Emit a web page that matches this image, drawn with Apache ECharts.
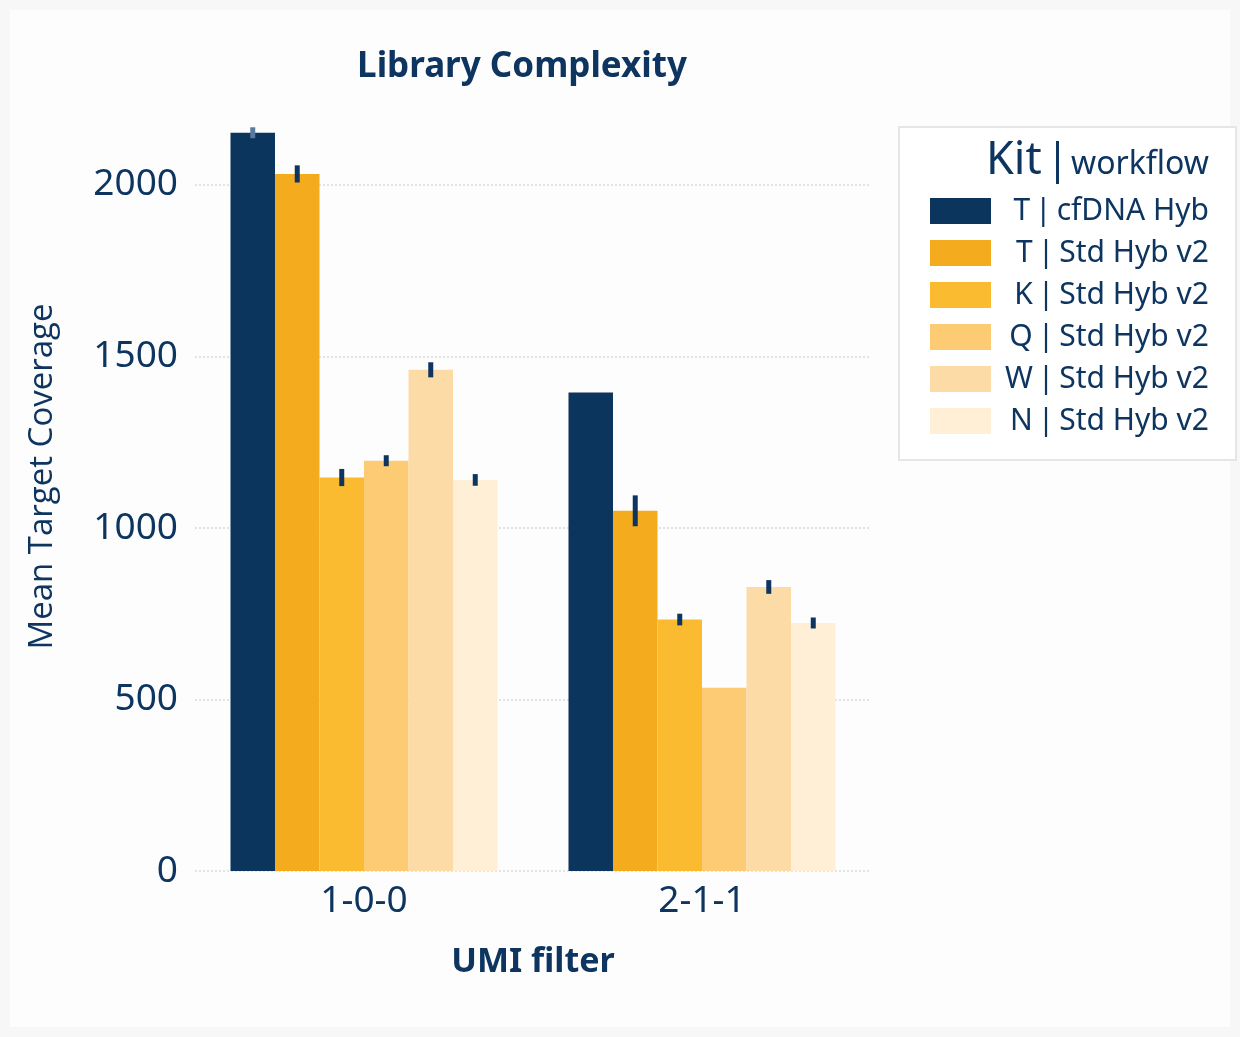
<!DOCTYPE html>
<html>
<head>
<meta charset="utf-8">
<script src="https://cdn.jsdelivr.net/npm/echarts@6/dist/echarts.min.js"></script>
<style>
html,body{margin:0;padding:0;background:#f7f7f7;}
#chart{width:1240px;height:1037px;}
</style>
</head>
<body>
<div id="chart"></div>
<script>
// ---- data ----
const categories = ['1-0-0', '2-1-1'];
const seriesNames = ['T | cfDNA Hyb', 'T | Std Hyb v2', 'K | Std Hyb v2', 'Q | Std Hyb v2', 'W | Std Hyb v2', 'N | Std Hyb v2'];
const tCfdna = [2152, 1395];
const tStd   = [2032, 1050];
const kStd   = [1147, 733];
const qStd   = [1196, 534];
const wStd   = [1461, 828];
const nStd   = [1140, 723];
const errTCfdna = [16, 0];
const errTStd   = [25, 45];
const errKStd   = [25, 17];
const errQStd   = [16, 0];
const errWStd   = [22, 20];
const errNStd   = [17, 16];
const yTicks = [0, 500, 1000, 1500, 2000];

const values = [tCfdna, tStd, kStd, qStd, wStd, nStd];
const errors = [errTCfdna, errTStd, errKStd, errQStd, errWStd, errNStd];
const colors = ['#0c355e', '#f4ab1e', '#fbbb31', '#fccb74', '#fcdba6', '#feefd6'];
const navy = '#0d3560';
const CAT_GAP = 0.21;

const errData = [];
values.forEach((vals, si) => {
  vals.forEach((v, ci) => {
    const e = errors[si][ci];
    if (e > 0) errData.push([ci, si, v - e, v + e]);
  });
});

const chart = echarts.init(document.getElementById('chart'));
const barSeries = seriesNames.map((name, i) => ({
  name: name,
  type: 'bar',
  data: values[i],
  barGap: '0%',
  barCategoryGap: (CAT_GAP * 100) + '%',
  itemStyle: { color: colors[i] },
  z: 2
}));

const option = {
  backgroundColor: '#f7f7f7',
  animation: false,
  graphic: [
    { type: 'rect', shape: { x: 10, y: 10, width: 1220, height: 1017 }, style: { fill: '#fdfdfd' }, z: -10, silent: true },
    { type: 'text', left: 986, top: 139, z: 100, style: { text: 'Kit', font: '45px "Noto Sans"', fill: navy } },
    { type: 'rect', shape: { x: 1056, y: 141, width: 3, height: 43 }, style: { fill: navy }, z: 100 },
    { type: 'text', left: 1071, top: 149, z: 100, style: { text: 'workflow', font: '32px "Noto Sans"', fill: navy } }
  ],
  title: {
    text: 'Library Complexity',
    left: 517,
    top: 45,
    textAlign: 'center',
    textStyle: { fontFamily: '"Noto Sans"', fontWeight: 'bold', fontSize: 35, color: navy }
  },
  legend: {
    data: seriesNames,
    orient: 'vertical',
    left: 899,
    top: 127,
    padding: [69, 27, 24, 31],
    itemWidth: 61,
    itemHeight: 26,
    itemGap: 12,
    icon: 'rect',
    backgroundColor: '#ffffff',
    borderColor: '#e6e6e6',
    borderWidth: 2,
    formatter: name => '{t|' + name.replace(' | ', '\u2009|\u2009') + '}',
    textStyle: {
      color: navy,
      rich: { t: { width: 213, height: 28, align: 'right', fontSize: 30, lineHeight: 28, fontFamily: '"Noto Sans"', color: navy } }
    }
  },
  grid: { left: 195, right: 369, top: 82, bottom: 166, containLabel: false },
  xAxis: {
    type: 'category',
    data: categories,
    axisLine: { show: false },
    axisTick: { show: false },
    axisLabel: { fontSize: 37, color: navy, margin: 12, fontFamily: '"Noto Sans"' },
    name: 'UMI filter',
    nameLocation: 'middle',
    nameGap: 74,
    nameTextStyle: { fontFamily: '"Noto Sans"', fontWeight: 'bold', fontSize: 34, color: navy }
  },
  yAxis: {
    type: 'value',
    min: 0,
    max: 2300,
    interval: 500,
    axisLine: { show: false },
    axisTick: { show: false },
    axisLabel: {
      fontSize: 37, color: navy, margin: 17, fontFamily: '"Noto Sans"',
      formatter: v => (yTicks.indexOf(v) >= 0 ? String(v) : '')
    },
    splitLine: { show: true, showMaxLine: false, lineStyle: { type: 'dotted', color: '#e3e3e3', width: 2 } },
    name: 'Mean Target Coverage',
    nameLocation: 'middle',
    nameGap: 136,
    nameTextStyle: { fontSize: 33, color: navy, fontFamily: '"Open Sans", "Noto Sans"' }
  },
  series: barSeries.concat([{
    type: 'custom',
    name: 'error',
    data: errData,
    encode: { x: 0, y: [2, 3] },
    z: 10,
    renderItem: function (params, api) {
      const ci = api.value(0);
      const si = api.value(1);
      const lo = api.coord([ci, api.value(2)]);
      const hi = api.coord([ci, api.value(3)]);
      const catW = api.size([1, 0])[0];
      const groupW = catW * (1 - CAT_GAP);
      const bw = groupW / seriesNames.length;
      const x = lo[0] - groupW / 2 + bw * (si + 0.5);
      return {
        type: 'line',
        shape: { x1: x, y1: lo[1], x2: x, y2: hi[1] },
        style: { stroke: si === 0 ? '#5a79a0' : navy, lineWidth: 5 }
      };
    }
  }])
};
chart.setOption(option);
</script>
</body>
</html>
